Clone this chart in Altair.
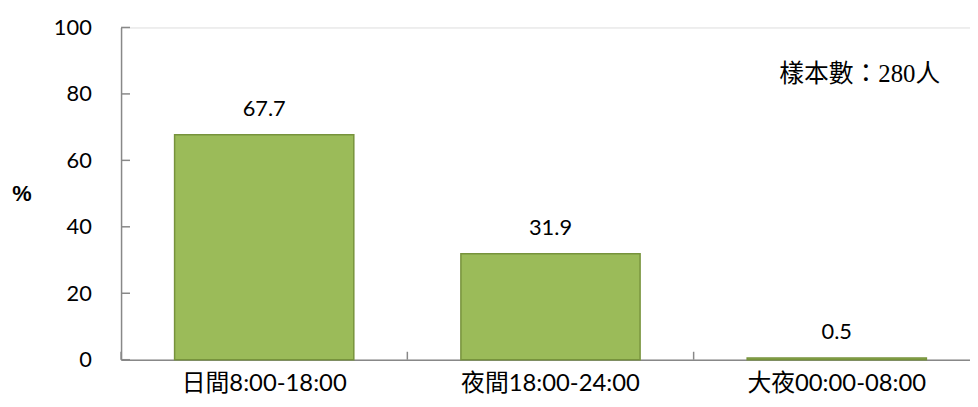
import altair as alt
import pandas as pd

categories = ["日間8:00-18:00", "夜間18:00-24:00", "大夜00:00-08:00"]
values = [67.7, 31.9, 0.5]
y_ticks = [0, 20, 40, 60, 80, 100]
sample_note = "樣本數：280人"

df = pd.DataFrame({"cat": categories, "val": values})
ticks_df = pd.DataFrame({"t": y_ticks})

FONT = "Lato, Noto Sans CJK TC, sans-serif"
W, H = 856, 335

xscale = alt.Scale(domain=categories, range=[0, 866], paddingInner=0, paddingOuter=0)
yscale = alt.Scale(domain=[0, 100], nice=False)

bars = alt.Chart(df).mark_bar(
    width={"band": 0.626}, color="#9BBB59", stroke="#77933C", strokeWidth=1.5
).encode(
    x=alt.X("cat:N", scale=xscale, sort=categories,
            axis=alt.Axis(title=None, labelAngle=0, labelFont=FONT, labelFontSize=24,
                          labelColor="#000", labelPadding=12, labelLimit=0, ticks=False,
                          domainColor="#888888", domainWidth=1.5)),
    y=alt.Y("val:Q", scale=yscale,
            axis=alt.Axis(values=y_ticks, title=None,
                          labelFont=FONT, labelFontSize=22, labelColor="#000",
                          labelPadding=30, ticks=False, grid=False,
                          domainColor="#888888", domainWidth=1.5)),
)

labels = alt.Chart(df).mark_text(
    font=FONT, fontSize=22, color="#000", baseline="bottom", dy=-14
).encode(
    x=alt.X("cat:N", scale=xscale, sort=categories),
    y=alt.Y("val:Q", scale=yscale),
    text=alt.Text("val:Q", format=".1f"),
)

ytickmarks = alt.Chart(ticks_df).mark_rule(color="#888888", strokeWidth=1.5).encode(
    y=alt.Y("t:Q", scale=yscale),
    x=alt.value(0),
    x2=alt.value(9),
)

xtickmarks = alt.Chart(df).mark_rule(color="#888888", strokeWidth=1.5).encode(
    x=alt.X("cat:N", scale=xscale, sort=categories, bandPosition=0),
    y=alt.value(H - 8),
    y2=alt.value(H),
)

pct = alt.Chart(pd.DataFrame({"t": ["%"]})).mark_text(
    font="Liberation Sans", fontSize=22, fontWeight="bold", color="#000",
    align="center", baseline="middle"
).encode(
    text="t:N",
    x=alt.value(-100),
    y=alt.value(168),
)

note = alt.Chart(pd.DataFrame({"t": [sample_note]})).mark_text(
    font="Liberation Serif, Noto Sans CJK TC, serif", fontSize=25, color="#000",
    align="right", baseline="middle"
).encode(
    text="t:N",
    x=alt.value(826),
    y=alt.value(47),
)

chart = alt.layer(bars, labels, ytickmarks, xtickmarks, pct, note).properties(
    width=W, height=H,
    autosize=alt.AutoSizeParams(type="none"),
    padding={"left": 114, "top": 18, "right": 0, "bottom": 38},
).configure_view(fill="#EEF0E8", stroke=None, clip=False).configure(background="white")

chart.save("out.html", embed_options={"renderer": "svg", "actions": False})
